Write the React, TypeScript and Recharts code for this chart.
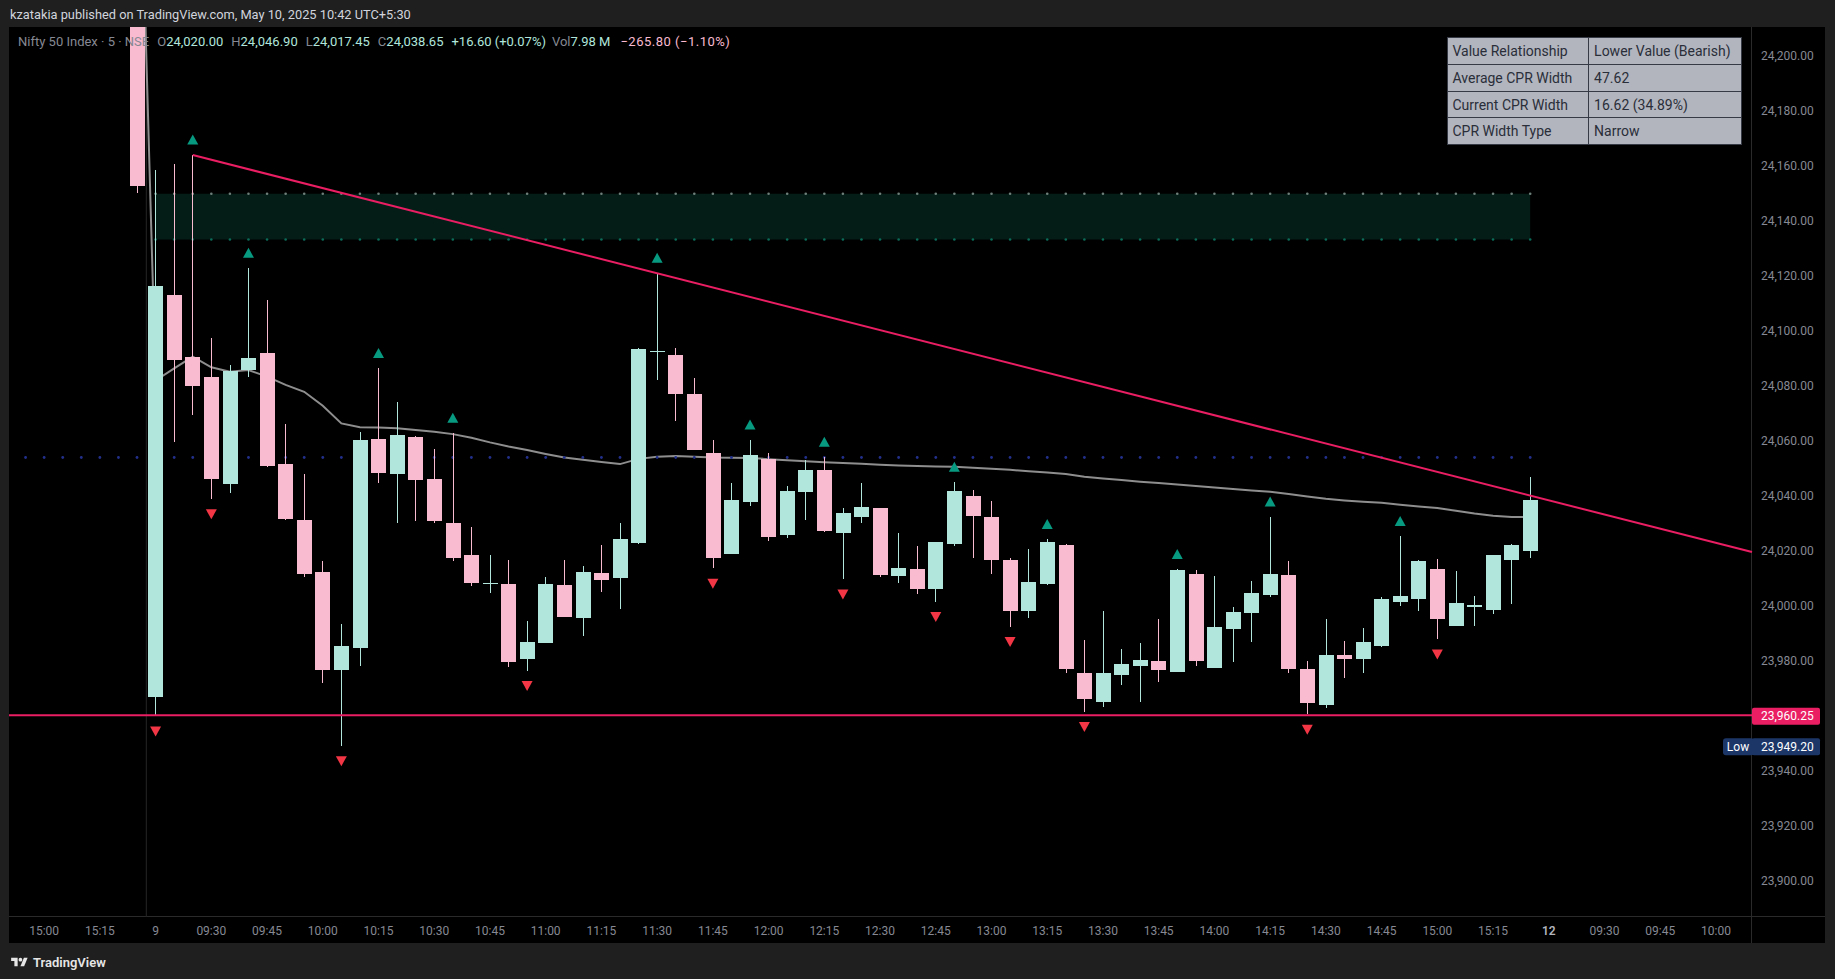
import React from 'react'
import {
  ComposedChart, Bar, Line, Scatter, XAxis, YAxis, ReferenceLine, ReferenceArea,
} from 'recharts'

const W = 1835
const H = 979
const FONT = 'Roboto, "Noto Sans", Arial, sans-serif'

const GREEN = '#b0e6dc'
const PINK = '#f8bbd0'
const RED = '#e91e63'
const TEAL = '#089981'
const DOWN_RED = '#f23645'
const AXIS_TEXT = '#868993'

// ---- data (5 minute bars, bar 0 = 09:15 on the 9th) ----
// last bar of the previous session, mostly above the visible range
const prevBar = { i: -1, o: 24290, h: 24300, l: 24150.1, c: 24152.8, ema: 24318 }

const opens = [
  23967.0, 24113.1, 24090.7, 24083.4, 24044.5, 24085.8, 24091.9, 24051.6, 24031.3, 24012.4, 23976.8, 23984.8, 24060.7, 24048.1, 24061.5,
  24046.2, 24030.2, 24018.5, 24008.0, 24008.0, 23980.6, 23986.7, 24007.6, 23995.7, 24012.0, 24010.3, 24023.0, 24092.3, 24091.3, 24077.1,
  24055.6, 24019.0, 24037.9, 24053.5, 24025.9, 24041.6, 24049.5, 24026.7, 24032.5, 24035.5, 24011.0, 24013.5, 24006.3, 24022.5, 24040.0,
  24032.4, 24016.7, 23998.3, 24008.1, 24022.2, 23975.5, 23965.2, 23975.0, 23978.0, 23980.0, 23976.1, 24011.6, 23977.6, 23991.8, 23997.6,
  24004.0, 24011.3, 23977.1, 23964.0, 23982.2, 23980.7, 23985.5, 24001.5, 24002.5, 24013.5, 23992.8, 23999.8, 23998.5, 24016.7, 24020.0,
]
const highs = [
  24158.5, 24160.7, 24164.0, 24097.3, 24087.6, 24122.8, 24111.3, 24066.0, 24048.0, 24016.4, 23993.5, 24063.1, 24086.4, 24074.3, 24061.8,
  24057.1, 24062.8, 24028.7, 24018.5, 24016.7, 23994.5, 24010.4, 24016.7, 24014.5, 24022.2, 24030.3, 24093.9, 24121.0, 24093.9, 24082.8,
  24060.4, 24044.6, 24060.4, 24055.5, 24043.6, 24053.1, 24054.1, 24035.5, 24044.6, 24035.7, 24026.4, 24021.7, 24023.4, 24045.0, 24042.2,
  24038.2, 24017.3, 24020.7, 24024.2, 24022.5, 23987.6, 23998.2, 23984.4, 23986.4, 23995.3, 24013.3, 24013.1, 24010.9, 23999.5, 24009.1,
  24032.4, 24016.4, 23980.0, 23995.3, 23987.3, 23991.9, 24003.3, 24025.3, 24016.6, 24017.1, 24012.7, 24003.6, 24018.6, 24022.5, 24046.9,
]
const lows = [
  23960.0, 24059.8, 24069.5, 24039.0, 24041.2, 24083.2, 24050.5, 24031.3, 24010.7, 23972.1, 23949.2, 23978.3, 24044.9, 24030.3, 24031.0,
  24030.3, 24016.5, 24007.4, 24004.6, 23977.7, 23976.5, 23986.5, 23996.0, 23989.2, 24005.2, 23999.0, 24022.4, 24082.2, 24067.4, 24056.6,
  24013.7, 24018.8, 24036.4, 24023.7, 24024.8, 24031.3, 24027.0, 24009.8, 24030.3, 24010.7, 24008.5, 24004.5, 24001.6, 24021.9, 24017.6,
  24011.7, 23992.5, 23995.7, 24007.8, 23975.7, 23961.6, 23963.4, 23971.4, 23965.2, 23972.5, 23975.9, 23978.3, 23977.4, 23979.7, 23987.0,
  24003.4, 23975.7, 23960.6, 23963.0, 23973.9, 23975.5, 23985.2, 24000.1, 23998.3, 23988.0, 23992.6, 23992.8, 23997.2, 24000.9, 24017.45,
]
const closes = [
  24116.4, 24089.5, 24080.0, 24046.2, 24085.6, 24090.0, 24051.0, 24031.6, 24011.8, 23976.8, 23985.5, 24060.4, 24048.5, 24062.2, 24045.8,
  24031.0, 24017.6, 24008.5, 24008.4, 23979.7, 23986.8, 24008.0, 23996.1, 24012.4, 24009.6, 24024.4, 24093.5, 24092.6, 24077.2, 24056.8,
  24017.6, 24038.5, 24054.9, 24025.2, 24041.8, 24049.5, 24027.3, 24033.9, 24036.1, 24011.3, 24013.8, 24006.3, 24023.2, 24041.8, 24032.7,
  24016.7, 23998.3, 24008.7, 24023.3, 23977.2, 23966.3, 23975.5, 23978.9, 23980.4, 23976.8, 24013.1, 23980.0, 23992.4, 23997.8, 24004.7,
  24011.6, 23977.2, 23964.8, 23982.2, 23980.7, 23986.9, 24002.5, 24003.6, 24016.4, 23995.3, 24001.1, 24000.4, 24018.5, 24022.05, 24038.65,
]
// grey moving average
const ema = [
  24082.0, 24086.4, 24090.7, 24086.8, 24085.2, 24085.8, 24083.4, 24080.4, 24077.9, 24072.8, 24066.4, 24065.0, 24064.9, 24064.6, 24064.0,
  24063.4, 24062.5, 24061.2, 24059.5, 24058.0, 24056.7, 24055.3, 24054.0, 24053.2, 24052.4, 24051.6, 24053.5, 24054.3, 24054.5, 24054.3,
  24054.0, 24053.9, 24053.8, 24053.4, 24053.0, 24052.6, 24052.3, 24052.0, 24051.7, 24051.4, 24051.1, 24050.9, 24050.7, 24050.6, 24050.3,
  24049.9, 24049.5, 24049.0, 24048.5, 24048.0, 24047.0, 24046.4, 24045.8, 24045.2, 24044.7, 24044.2, 24043.6, 24043.1, 24042.5, 24042.0,
  24041.5, 24040.7, 24039.8, 24039.0, 24038.4, 24037.9, 24037.5, 24036.8, 24036.2, 24035.6, 24034.6, 24033.6, 24032.8, 24032.4, 24032.3,
]

const pivotHighBars = [2, 5, 12, 16, 27, 32, 36, 43, 48, 55, 60, 67]
const pivotLowBars = [0, 3, 10, 20, 30, 37, 42, 46, 50, 62, 69]
const prevSessionBars = [-7, -6, -5, -4, -3, -2, -1]

const PIVOT_LEVEL = 24054.0
const ZONE_TOP = 24149.9
const ZONE_BOTTOM = 24133.3
const SUPPORT = 23960.25
const DAY_LOW = 23949.2
const trendLine = [{ x: 2, y: 24164.0 }, { x: 85.94, y: 24019.6 }]

const yTicks = [23900, 23920, 23940, 23980, 24000, 24020, 24040, 24060, 24080, 24100, 24120, 24140, 24160, 24180, 24200]
const xTicks = [-6, -3, 0, 3, 6, 9, 12, 15, 18, 21, 24, 27, 30, 33, 36, 39, 42, 45, 48, 51, 54, 57, 60, 63, 66, 69, 72, 75, 78, 81, 84]
const xTickLabels = [
  '15:00', '15:15', '9', '09:30', '09:45', '10:00', '10:15', '10:30', '10:45', '11:00', '11:15', '11:30', '11:45', '12:00', '12:15',
  '12:30', '12:45', '13:00', '13:15', '13:30', '13:45', '14:00', '14:15', '14:30', '14:45', '15:00', '15:15', '12', '09:30', '09:45', '10:00',
]

const tableRows = [
  ['Value Relationship', 'Lower Value (Bearish)'],
  ['Average CPR Width', '47.62'],
  ['Current CPR Width', '16.62 (34.89%)'],
  ['CPR Width Type', 'Narrow'],
]

// visible window
const X_MIN = -7.892
const X_MAX = 85.94
const Y_MIN = 23886.9
const Y_MAX = 24210.55

const today = opens.map((o, k) => ({ i: k, o, h: highs[k], l: lows[k], c: closes[k], ema: ema[k] }))
const candles = [prevBar, ...today].map((d) => ({ ...d, range: [d.l, d.h] }))
const highMarks = pivotHighBars.map((i) => ({ i, v: highs[i] }))
const lowMarks = pivotLowBars.map((i) => ({ i, v: lows[i] }))
const pivotDots = [...prevSessionBars, ...today.map((d) => d.i)].map((i) => ({ i, v: PIVOT_LEVEL }))
const zoneTopDots = today.map((d) => ({ i: d.i, v: ZONE_TOP }))
const zoneBottomDots = today.map((d) => ({ i: d.i, v: ZONE_BOTTOM }))

const fmt = (v: number) => v.toLocaleString('en-US', { minimumFractionDigits: 2, maximumFractionDigits: 2 })

const last = today[today.length - 1]
const prevClose = today[today.length - 2].c
const chg = last.c - prevClose

function Candle(props: any) {
  const { x, y, width, height, payload } = props
  if (payload == null || x == null || y == null) return null
  const { o, h, l, c } = payload
  const top = Math.min(y, y + height)
  const span = Math.abs(height)
  const k = h === l ? 0 : span / (h - l)
  const py = (v: number) => top + (h - v) * k
  const color = c >= o ? GREEN : PINK
  const rx = Math.round(x)
  const bw = Math.round(width)
  const bt = Math.round(py(Math.max(o, c)))
  const bb = Math.round(py(Math.min(o, c)))
  const wt = Math.round(top)
  const wb = Math.round(top + span)
  return (
    <g>
      <rect x={rx + Math.floor(bw / 2)} y={wt} width={1} height={Math.max(1, wb - wt)} fill={color} />
      <rect x={rx} y={bt} width={bw} height={Math.max(1, bb - bt)} fill={color} />
    </g>
  )
}

function TriUp(props: any) {
  const { cx, cy } = props
  if (cx == null || cy == null) return null
  const c = cy - 15.5
  return <path d={`M${cx - 5.5},${c + 5} L${cx + 5.5},${c + 5} L${cx},${c - 5} Z`} fill={TEAL} />
}

function TriDown(props: any) {
  const { cx, cy } = props
  if (cx == null || cy == null) return null
  const c = cy + 15.5
  return <path d={`M${cx - 5.5},${c - 5} L${cx + 5.5},${c - 5} L${cx},${c + 5} Z`} fill={DOWN_RED} />
}

const dot = (fill: string, r: number) => (props: any) => {
  const { cx, cy } = props
  if (cx == null || cy == null) return null
  return <circle cx={cx} cy={cy} r={r} fill={fill} />
}

function AxisTag(props: any) {
  const { viewBox, text, fill, prefix } = props
  if (!viewBox) return null
  const x = viewBox.x + viewBox.width
  const y = viewBox.y
  return (
    <g>
      {prefix ? (
        <g>
          <rect x={x - 29} y={y - 7.5} width={31} height={17} rx={3} fill={fill} />
          <text x={x - 14} y={y + 1} dy="0.35em" textAnchor="middle" fill="#ffffff" fontSize={12} fontFamily={FONT}>{prefix}</text>
        </g>
      ) : null}
      <rect x={x} y={y - 7.5} width={68} height={17} rx={2} fill={fill} />
      <text x={x + 9} y={y + 1} dy="0.35em" fill="#ffffff" fontSize={12} fontFamily={FONT}>{text}</text>
    </g>
  )
}

function TimeTick(props: any) {
  const { x, y, payload } = props
  const k = xTicks.indexOf(payload.value)
  const label = k >= 0 ? xTickLabels[k] : ''
  const bold = label === '12'
  return (
    <text x={x} y={y} dy="0.71em" textAnchor="middle" fontSize={12} fontFamily={FONT}
      fill={bold ? '#b2b5be' : AXIS_TEXT} fontWeight={bold ? 600 : 400}>
      {label}
    </text>
  )
}

const baseMargin = { top: 27, right: 10, bottom: 36, left: 9 }
const overlayMargin = { top: 27, right: 83, bottom: 62, left: 9 }
const layerStyle: React.CSSProperties = { position: 'absolute', left: 0, top: 0, pointerEvents: 'none' }

export default function App() {
  return (
    <div style={{ position: 'absolute', left: 0, top: 0, width: W, height: H, background: '#1f1f1f', overflow: 'hidden', fontFamily: FONT }}>
      <div style={{ position: 'absolute', left: 10, top: 6, lineHeight: '18px', fontSize: 12.8, color: '#d1d4dc', whiteSpace: 'nowrap' }}>
        kzatakia published on TradingView.com, May 10, 2025 10:42 UTC+5:30
      </div>

      <div style={{ position: 'absolute', left: 9, top: 27, width: 1816, height: 916, background: '#000000' }} />
      <div style={{ position: 'absolute', left: 1751, top: 27, width: 1, height: 916, background: '#2a2a2a' }} />
      <div style={{ position: 'absolute', left: 9, top: 916, width: 1816, height: 1, background: '#2a2a2a' }} />

      {/* bottom layer: axes, zone, level dots, moving average */}
      <div style={layerStyle}>
        <ComposedChart width={W} height={H} data={candles} margin={baseMargin}>
          <XAxis type="number" dataKey="i" domain={[X_MIN, X_MAX]} allowDataOverflow ticks={xTicks} interval={0}
            height={26} axisLine={false} tickLine={false} tickSize={0} tickMargin={9} tick={<TimeTick />} />
          <YAxis orientation="right" domain={[Y_MIN, Y_MAX]} allowDataOverflow ticks={yTicks} interval={0}
            width={73} axisLine={false} tickLine={false} tickSize={0} tickMargin={9} tickFormatter={fmt}
            tick={{ fill: AXIS_TEXT, fontSize: 12, fontFamily: FONT }} />
          <ReferenceArea x1={0} x2={74} y1={ZONE_BOTTOM} y2={ZONE_TOP} fill="#051d17" fillOpacity={1} stroke="none" />
          <ReferenceLine x={-0.5} stroke="#262626" strokeWidth={1} />
          <Scatter data={pivotDots} dataKey="v" shape={dot('#22308c', 1.4)} isAnimationActive={false} />
          <Scatter data={zoneTopDots} dataKey="v" shape={dot('#6e7f7a', 1.3)} isAnimationActive={false} />
          <Scatter data={zoneBottomDots} dataKey="v" shape={dot('#0c6b58', 1.3)} isAnimationActive={false} />
          <Line dataKey="ema" type="linear" stroke="#8e8e8e" strokeWidth={2} dot={false} isAnimationActive={false} />
        </ComposedChart>
      </div>

      {/* candles */}
      <div style={layerStyle}>
        <ComposedChart width={W} height={H} data={candles} margin={overlayMargin}>
          <XAxis hide type="number" dataKey="i" domain={[X_MIN, X_MAX]} allowDataOverflow />
          <YAxis hide domain={[Y_MIN, Y_MAX]} allowDataOverflow />
          <Bar dataKey="range" barSize={15} shape={(p: any) => <Candle {...p} />} isAnimationActive={false} />
        </ComposedChart>
      </div>

      {/* drawings and markers */}
      <div style={layerStyle}>
        <ComposedChart width={W} height={H} data={candles} margin={overlayMargin}>
          <XAxis hide type="number" dataKey="i" domain={[X_MIN, X_MAX]} allowDataOverflow />
          <YAxis hide domain={[Y_MIN, Y_MAX]} allowDataOverflow />
          <ReferenceLine segment={trendLine} stroke={RED} strokeWidth={2} ifOverflow="visible" />
          <ReferenceLine y={SUPPORT} stroke={RED} strokeWidth={2}
            label={<AxisTag text={fmt(SUPPORT)} fill={RED} />} />
          <ReferenceLine y={DAY_LOW} stroke="none"
            label={<AxisTag text={fmt(DAY_LOW)} fill="#1c3668" prefix="Low" />} />
          <Scatter data={highMarks} dataKey="v" shape={TriUp} isAnimationActive={false} />
          <Scatter data={lowMarks} dataKey="v" shape={TriDown} isAnimationActive={false} />
        </ComposedChart>
      </div>

      {/* legend */}
      <div style={{ position: 'absolute', left: 18, top: 33, lineHeight: '18px', fontSize: 13, display: 'flex', whiteSpace: 'nowrap' }}>
        <span style={{ color: AXIS_TEXT }}>Nifty 50 Index · 5 · NSE</span>
        <span style={{ marginLeft: 8, color: AXIS_TEXT }}>O</span><span style={{ color: GREEN }}>{fmt(last.o)}</span>
        <span style={{ marginLeft: 8, color: AXIS_TEXT }}>H</span><span style={{ color: GREEN }}>{fmt(last.h)}</span>
        <span style={{ marginLeft: 8, color: AXIS_TEXT }}>L</span><span style={{ color: GREEN }}>{fmt(last.l)}</span>
        <span style={{ marginLeft: 8, color: AXIS_TEXT }}>C</span><span style={{ color: GREEN }}>{fmt(last.c)}</span>
        <span style={{ marginLeft: 8, color: GREEN }}>
          {`+${fmt(chg)} (+${((chg / prevClose) * 100).toFixed(2)}%)`}
        </span>
        <span style={{ marginLeft: 6, color: AXIS_TEXT }}>Vol</span><span style={{ color: GREEN }}>7.98 M</span>
        <span style={{ marginLeft: 10, color: PINK, letterSpacing: 0.5 }}>−265.80 (−1.10%)</span>
      </div>

      {/* indicator table */}
      <div style={{
        position: 'absolute', left: 1446.5, top: 37.3, display: 'grid', gridTemplateColumns: '140.6px 151.7px',
        gridAutoRows: '25.7px', gap: 1, padding: 1, background: '#363a45',
      }}>
        {tableRows.flat().map((t, k) => (
          <div key={k} style={{
            background: '#b2b5be', color: '#2a2e39', fontSize: 14, paddingLeft: 5,
            display: 'flex', alignItems: 'center', whiteSpace: 'nowrap',
          }}>{t}</div>
        ))}
      </div>

      {/* footer logo */}
      <div style={{ position: 'absolute', left: 11, top: 954, display: 'flex', alignItems: 'center', height: 16 }}>
        <svg width={17} height={13} viewBox="0 0 36 28">
          <path d="M14 22H7V11H0V4h14v18z" fill="#e6e6e6" />
          <circle cx="20" cy="8" r="4" fill="#e6e6e6" />
          <path d="M28 22h-8l7.5-18h8L28 22z" fill="#e6e6e6" />
        </svg>
        <span style={{ marginLeft: 5, fontSize: 13, fontWeight: 600, color: '#e6e6e6' }}>TradingView</span>
      </div>
    </div>
  )
}
